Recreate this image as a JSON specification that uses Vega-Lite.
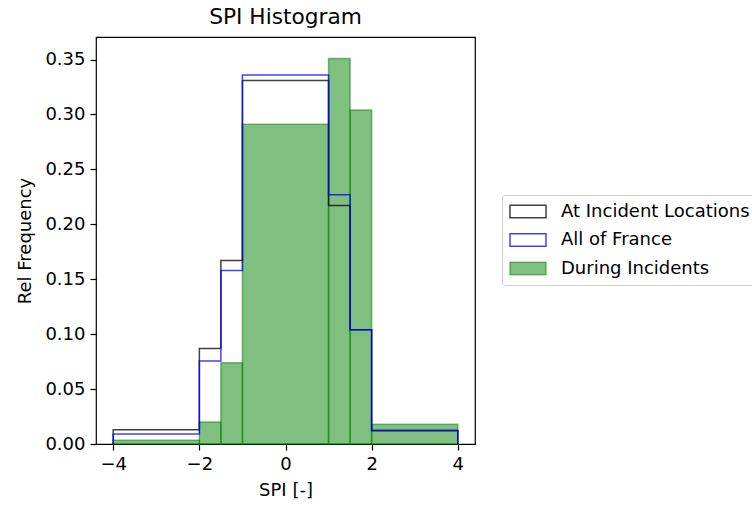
{
  "$schema": "https://vega.github.io/schema/vega-lite/v6.json",
  "width": 379,
  "height": 407,
  "autosize": {"type": "none"},
  "padding": {"left": 96, "top": 37, "right": 277, "bottom": 62},
  "background": "white",
  "title": {"text": "SPI Histogram", "fontSize": 21.7, "font": "DejaVu Sans", "fontWeight": "normal", "color": "black", "offset": 8},
  "datasets": {
    "incidents": [
      {"series": "During Incidents", "x0": -4, "x1": -2, "freq": 0.0035},
      {"series": "During Incidents", "x0": -2, "x1": -1.5, "freq": 0.020},
      {"series": "During Incidents", "x0": -1.5, "x1": -1, "freq": 0.074},
      {"series": "During Incidents", "x0": -1, "x1": 1, "freq": 0.291},
      {"series": "During Incidents", "x0": 1, "x1": 1.5, "freq": 0.351},
      {"series": "During Incidents", "x0": 1.5, "x1": 2, "freq": 0.304},
      {"series": "During Incidents", "x0": 2, "x1": 4, "freq": 0.018}
    ],
    "locations": [
      {"i": 0, "edge": -4, "freq": 0},
      {"i": 1, "edge": -4, "freq": 0.013},
      {"i": 2, "edge": -2, "freq": 0.087},
      {"i": 3, "edge": -1.5, "freq": 0.167},
      {"i": 4, "edge": -1, "freq": 0.331},
      {"i": 5, "edge": 1, "freq": 0.217},
      {"i": 6, "edge": 1.5, "freq": 0.104},
      {"i": 7, "edge": 2, "freq": 0.012},
      {"i": 8, "edge": 4, "freq": 0}
    ],
    "france": [
      {"i": 0, "edge": -4, "freq": 0},
      {"i": 1, "edge": -4, "freq": 0.009},
      {"i": 2, "edge": -2, "freq": 0.0755},
      {"i": 3, "edge": -1.5, "freq": 0.158},
      {"i": 4, "edge": -1, "freq": 0.336},
      {"i": 5, "edge": 1, "freq": 0.227},
      {"i": 6, "edge": 1.5, "freq": 0.104},
      {"i": 7, "edge": 2, "freq": 0.0125},
      {"i": 8, "edge": 4, "freq": 0}
    ]
  },
  "layer": [
    {
      "data": {"name": "incidents"},
      "mark": {"type": "bar", "strokeWidth": 1.5},
      "encoding": {
        "x": {"field": "x0", "type": "quantitative", "scale": {"domain": [-4.4, 4.4], "nice": false, "zero": false},
              "axis": {"values": [-4, -2, 0, 2, 4], "title": "SPI [-]", "labelExpr": "replace(datum.label, '-', '\u2212')"}},
        "x2": {"field": "x1"},
        "y": {"field": "freq", "type": "quantitative", "scale": {"domain": [0, 0.3705], "nice": false},
              "axis": {"values": [0, 0.05, 0.1, 0.15, 0.2, 0.25, 0.3, 0.35], "format": ".2f", "title": "Rel Frequency"}},
        "y2": {"datum": 0},
        "fill": {"field": "series", "type": "nominal",
                 "scale": {"domain": ["At Incident Locations", "All of France", "During Incidents"],
                           "range": ["rgba(255,255,255,0)", "rgba(255,255,255,0)", "rgba(0,128,0,0.5)"]},
                 "legend": {"title": null, "orient": "none", "legendX": 406, "legendY": 158}},
        "stroke": {"field": "series", "type": "nominal",
                   "scale": {"domain": ["At Incident Locations", "All of France", "During Incidents"],
                             "range": ["rgba(0,0,0,0.75)", "rgba(0,0,255,0.75)", "rgba(0,128,0,0.5)"]},
                   "legend": {"title": null, "orient": "none", "legendX": 406, "legendY": 158}}
      }
    },
    {
      "data": {"name": "locations"},
      "mark": {"type": "line", "interpolate": "step-after", "stroke": "rgba(0,0,0,0.75)", "strokeWidth": 1.5},
      "encoding": {
        "x": {"field": "edge", "type": "quantitative"},
        "y": {"field": "freq", "type": "quantitative"},
        "order": {"field": "i"}
      }
    },
    {
      "data": {"name": "france"},
      "mark": {"type": "line", "interpolate": "step-after", "stroke": "rgba(0,0,255,0.75)", "strokeWidth": 1.5},
      "encoding": {
        "x": {"field": "edge", "type": "quantitative"},
        "y": {"field": "freq", "type": "quantitative"},
        "order": {"field": "i"}
      }
    }
  ],
  "config": {
    "view": {"stroke": "black", "strokeWidth": 1.2},
    "font": "DejaVu Sans",
    "axis": {
      "grid": false,
      "domain": false,
      "tickColor": "black",
      "tickSize": 6,
      "tickWidth": 1.2,
      "labelColor": "black",
      "labelFont": "DejaVu Sans",
      "labelFontSize": 18,
      "labelPadding": 5,
      "titleColor": "black",
      "titleFont": "DejaVu Sans",
      "titleFontSize": 18,
      "titleFontWeight": "normal",
      "labelFlush": false,
      "labelOverlap": false
    },
    "axisY": {"titlePadding": 10},
    "axisX": {"titlePadding": 8},
    "legend": {
      "symbolType": "M-1,-0.35H1V0.35H-1Z",
      "symbolSize": 1296,
      "symbolStrokeWidth": 1.5,
      "labelFont": "DejaVu Sans",
      "labelFontSize": 18,
      "labelColor": "black",
      "labelOffset": 14,
      "labelLimit": 0,
      "clipHeight": 19,
      "strokeColor": "#d0d0d0",
      "fillColor": "white",
      "cornerRadius": 3,
      "padding": 7,
      "rowPadding": 9.5
    }
  }
}
